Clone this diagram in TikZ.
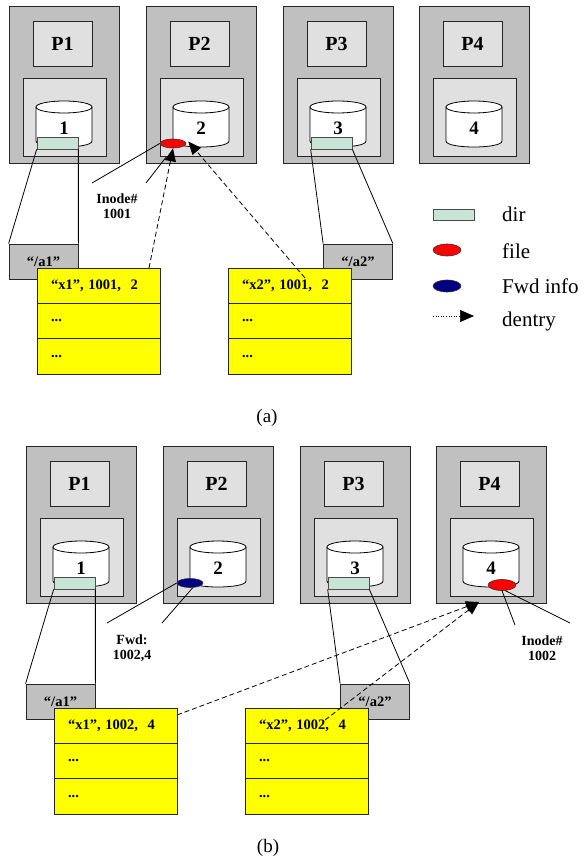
\documentclass[tikz,border=0pt]{standalone}
\usepackage{fontspec}
\setmainfont{Liberation Serif}
\usetikzlibrary{shapes.geometric,arrows.meta,calc}
\definecolor{boxgray}{RGB}{192,192,192}
\definecolor{lightbox}{RGB}{224,224,224}
\definecolor{dirfill}{RGB}{200,228,214}
\definecolor{navyblue}{RGB}{0,0,128}
\definecolor{tabyellow}{RGB}{255,255,0}
\tikzset{
 outerbox/.style={draw=black!85, fill=boxgray, line width=0.8pt, inner sep=0, minimum width=110pt, minimum height=157pt},
 labbox/.style={draw=black!85, fill=lightbox, line width=0.8pt, inner sep=0, minimum width=59pt, minimum height=45pt, font=\fontsize{20}{22}\selectfont\bfseries},
 innerbox/.style={draw=black!85, fill=lightbox, line width=0.8pt, inner sep=0, minimum width=83pt, minimum height=78pt},
 cylnum/.style={font=\fontsize{19}{21}\selectfont\bfseries, inner sep=0},
 dirbox/.style={draw=black!70, fill=dirfill, line width=0.7pt, inner sep=0, minimum width=41pt, minimum height=12pt},
 abox/.style={draw=black!85, fill=boxgray, line width=0.8pt, inner sep=0, minimum width=69pt, minimum height=35pt, font=\fontsize{14.5}{16}\selectfont\bfseries},
 tabrow/.style={draw=black!85, fill=tabyellow, line width=0.8pt, inner xsep=14pt, inner ysep=0, text width=95pt, minimum height=35.3pt, align=left, font=\fontsize{14.5}{16}\selectfont\bfseries},
 calltext/.style={font=\fontsize{14}{15}\selectfont\bfseries, align=center, inner sep=0},
 conn/.style={line width=0.8pt},
 dentryarrow/.style={line width=0.8pt, dash pattern=on 5pt off 3pt, -{Triangle[length=13pt,width=11pt]}},
 filedot/.style={ellipse, draw=black!80, fill=red, line width=0.6pt, minimum width=26pt, minimum height=9pt, inner sep=0},
 fwddot/.style={filedot, fill=navyblue},
 legtext/.style={anchor=west, font=\fontsize{21}{23}\selectfont, inner sep=0},
 capt/.style={font=\fontsize{19}{21}\selectfont, inner sep=0},
}
\newcommand\procbox[4]{%
  \node[outerbox] (#1-out) at ({#2+55},{#3+78.5}) {};
  \node[labbox] (#1-lab) at ({#2+53.5},{#3+37.5}) {P#4};
  \node[innerbox] (#1-in) at ({#2+55.5},{#3+111}) {};
  \fill[white] ({#2+27},{#3+101}) rectangle ({#2+83},{#3+135});
  \fill[white] ({#2+27},{#3+135}) .. controls ({#2+27},{#3+143}) and ({#2+83},{#3+143}) .. ({#2+83},{#3+135}) -- cycle;
  \draw[conn] ({#2+27},{#3+101}) -- ({#2+27},{#3+135}) .. controls ({#2+27},{#3+143}) and ({#2+83},{#3+143}) .. ({#2+83},{#3+135}) -- ({#2+83},{#3+101});
  \draw[conn, fill=white] ({#2+55},{#3+101}) ellipse [x radius=28, y radius=6];
  \node[cylnum] (#1-num) at ({#2+55},{#3+122}) {#4};
}
\begin{document}
\begin{tikzpicture}[x=1pt,y=-1pt]
\useasboundingbox[fill=white] (0,0) rectangle (584,858);

% ================= (a) =================
\procbox{a-p1}{9}{6}{1}
\procbox{a-p2}{146}{6}{2}
\procbox{a-p3}{283}{6}{3}
\procbox{a-p4}{419}{6}{4}
\node[dirbox] (a-d1) at (57.5,143) {};
\node[dirbox] (a-d3) at (331.5,143) {};
\node[filedot] (a-file) at (173,143.5) {};

\node[abox] (a-a1) at (43.5,261.5) {``/a1''};
\node[abox] (a-a2) at (358,261.5) {``/a2''};
\draw[conn] (a-d1.south west) -- (a-a1.north west);
\draw[conn] (a-d1.south east) -- (a-a1.north east);
\draw[conn] (a-d3.south west) -- (a-a2.north west);
\draw[conn] (a-d3.south east) -- (a-a2.north east);

\node[tabrow] (a-t1r1) at (98.5,285.65) {``x1'', 1001,\ \ 2};
\node[tabrow] (a-t1r2) at (98.5,320.95) {...};
\node[tabrow] (a-t1r3) at (98.5,356.25) {...};
\node[tabrow] (a-t2r1) at (289.5,285.65) {``x2'', 1001,\ \ 2};
\node[tabrow] (a-t2r2) at (289.5,320.95) {...};
\node[tabrow] (a-t2r3) at (289.5,356.25) {...};

\node[calltext] (a-inode) at (117,206) {Inode\#\\1001};
\coordinate (a-c1) at (92,183);
\coordinate (a-c2) at (146,183);
\draw[conn] (a-c1) -- (a-file.west);
\draw[conn] (a-c2) -- ($(a-c2)!0.75!(a-file.south)$);

\coordinate (a-s1) at (149,268);
\coordinate (a-s2) at (305,278);
\draw[dentryarrow] (a-s1) -- (a-file.south);
\draw[dentryarrow] (a-s2) -- ($(a-file.east)+(2,-2)$);

% legend
\node[dirbox, minimum height=11pt] (leg-dir) at (453.5,214.5) {};
\node[filedot, minimum width=28pt, minimum height=12pt] (leg-file) at (447,250) {};
\node[fwddot, minimum width=28pt, minimum height=12pt] (leg-fwd) at (447,286) {};
\coordinate (leg-d0) at (433,316);
\coordinate (leg-d1) at (474,316);
\draw[dotted, line width=0.6pt, -{Triangle[length=14pt,width=12pt]}] (leg-d0) -- (leg-d1);
\node[legtext] (leg-t1) at (502,214.5) {dir};
\node[legtext] (leg-t2) at (502,251) {file};
\node[legtext] (leg-t3) at (502,286) {Fwd info};
\node[legtext] (leg-t4) at (502,321) {dentry};

\node[capt] (cap-a) at (267,418) {(a)};

% ================= (b) =================
\procbox{b-p1}{26}{446}{1}
\procbox{b-p2}{163}{446}{2}
\procbox{b-p3}{300}{446}{3}
\procbox{b-p4}{436}{446}{4}
\node[dirbox] (b-d1) at (74.5,583) {};
\node[dirbox] (b-d3) at (348.5,583) {};
\node[fwddot] (b-fwd) at (190,583) {};
\node[filedot, minimum width=28pt, minimum height=11pt] (b-file) at (502,585) {};

\node[abox] (b-a1) at (60.5,701.5) {``/a1''};
\node[abox] (b-a2) at (375,701.5) {``/a2''};
\draw[conn] (b-d1.south west) -- (b-a1.north west);
\draw[conn] (b-d1.south east) -- (b-a1.north east);
\draw[conn] (b-d3.south west) -- (b-a2.north west);
\draw[conn] (b-d3.south east) -- (b-a2.north east);

\node[tabrow] (b-t1r1) at (115.5,725.65) {``x1'', 1002,\ \ 4};
\node[tabrow] (b-t1r2) at (115.5,760.95) {...};
\node[tabrow] (b-t1r3) at (115.5,796.25) {...};
\node[tabrow] (b-t2r1) at (306.5,725.65) {``x2'', 1002,\ \ 4};
\node[tabrow] (b-t2r2) at (306.5,760.95) {...};
\node[tabrow] (b-t2r3) at (306.5,796.25) {...};

\node[calltext] (b-fwdtxt) at (132,648) {Fwd:\\1002,4};
\coordinate (b-c1) at (107,623);
\coordinate (b-c2) at (162,623);
\draw[conn] (b-c1) -- (b-fwd.west);
\draw[conn] (b-c2) -- (b-fwd.-60);

\node[calltext] (b-inode) at (542,648) {Inode\#\\1002};
\coordinate (b-c3) at (515,625);
\coordinate (b-c4) at (570,623);
\draw[conn] (b-c3) -- (b-file.south);
\draw[conn] (b-c4) -- (b-file.-60);

\coordinate (b-s1) at (177,715);
\coordinate (b-s2) at (325,720);
\coordinate (b-tip) at (479,602);
\draw[dentryarrow] (b-s1) -- (b-tip);
\draw[dentryarrow] (b-s2) -- (b-tip);

\node[capt] (cap-b) at (268,848) {(b)};
\end{tikzpicture}
\end{document}
